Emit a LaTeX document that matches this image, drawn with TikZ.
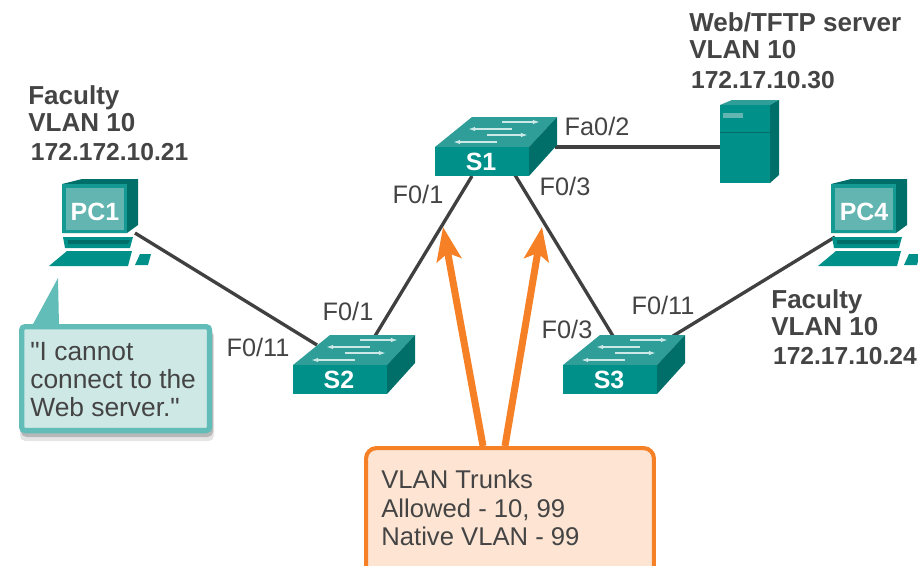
\documentclass[tikz,border=0pt]{standalone}
\usepackage{fontspec}
\setmainfont{Liberation Sans}
\newfontfamily\calloutfont{Liberation Sans}
\usetikzlibrary{arrows.meta}
\definecolor{teal1}{HTML}{00908A}
\definecolor{teal2}{HTML}{2F9E98}
\definecolor{teal3}{HTML}{006F69}
\definecolor{teal4}{HTML}{159A93}
\definecolor{screen1}{HTML}{62B5B0}
\definecolor{callout1}{HTML}{CDE8E5}
\definecolor{callout2}{HTML}{62BDB9}
\definecolor{orange1}{HTML}{F58025}
\definecolor{orange2}{HTML}{FDE4D3}
\definecolor{text1}{HTML}{444444}
\tikzset{
  link/.style={draw=black!75,line width=1.9pt},
  trunk/.style={draw=orange1,line width=4pt,-{Stealth[length=19pt,width=14pt,inset=4pt]}},
  port/.style={text=text1,font=\fontsize{14.4}{16}\selectfont,inner sep=0pt},
  info/.style={text=text1,font=\fontsize{14.8}{15.4}\selectfont\bfseries,align=left,anchor=north west,inner sep=0pt},
  iconlabel/.style={text=white,font=\fontsize{14.2}{15}\selectfont\bfseries,inner sep=0pt},
  pics/switchicon/.style={code={
    \fill[teal2] (0,0) -- (37,-30) -- (122,-30) -- (94,0) -- cycle;
    \fill[teal1] (0,0) rectangle (94,29);
    \fill[teal3] (94,0) -- (122,-30) -- (122,-2) -- (94,29) -- cycle;
    \foreach \a/\b/\y in {67/105/-25,52/93/-12}
      \draw[white!80!teal1,line width=.8pt,-{Latex[length=4pt,width=2.5pt]}] (\a,\y) -- (\b,\y);
    \foreach \a/\b/\y in {33/77/-18,18/62/-5}
      \draw[white!80!teal1,line width=.8pt,{Latex[length=4pt,width=2.5pt]}-] (\a,\y) -- (\b,\y);
    \node[iconlabel] (-label) at (46,15) {#1};
  }},
  pics/pcicon/.style={code={
    \fill[teal3] (0,0) -- (20,-5) -- (76,-5) -- (76,41) -- (65,49) -- (0,49) -- cycle;
    \fill[teal4] (0,0) -- (65,0) -- (65,49) -- (0,49) -- cycle;
    \fill[screen1] (4,4) rectangle (62,46);
    \fill[teal1] (1,53) -- (71,53) -- (68,64) -- (3,64) -- cycle;
    \fill[teal3] (6,56) -- (68,56) -- (66,60) -- (6,60) -- cycle;
    \fill[teal1] (5,67) -- (70,67) -- (66,82) -- (-13,82) -- cycle;
    \fill[teal1] (78,70) -- (89,70) -- (86,81) -- (73,81) -- cycle;
    \node[iconlabel] (-label) at (33,28) {#1};
  }}
}
\begin{document}
\begin{tikzpicture}[x=.02cm,y=-.02cm]
\useasboundingbox (0,0) rectangle (918,565);
\clip (0,0) rectangle (918,565);
% ports
\coordinate (PC1p) at (135,233);
\coordinate (PC4p) at (835,237);
\coordinate (S1a) at (472,176);
\coordinate (S1b) at (515,175);
\coordinate (S1c) at (555,147);
\coordinate (S2a) at (317,345);
\coordinate (S2b) at (375,336);
\coordinate (S3a) at (613,336);
\coordinate (S3b) at (673,336);
\coordinate (SRVp) at (722,147);
% links
\draw[link] (PC1p) -- (S2a);
\draw[link] (S2b) -- (S1a);
\draw[link] (S1b) -- (S3a);
\draw[link] (S3b) -- (PC4p);
\draw[link,line width=2.3pt] (S1c) -- (SRVp);
% switches
\pic (S1) at (435,147) {switchicon=S1};
\pic (S2) at (293,365) {switchicon=S2};
\pic (S3) at (563,365) {switchicon=S3};
% pcs
\pic (PC1) at (62,184) {pcicon=PC1};
\pic (PC4) at (831,184) {pcicon=PC4};
% server
\fill[teal2] (720,105) -- (732,100) -- (779,100) -- (770,105) -- cycle;
\fill[teal3] (770,105) -- (779,100) -- (779,175) -- (770,183) -- cycle;
\fill[teal1] (720,105) rectangle (770,183);
\fill[screen1] (723,113) rectangle (743,118);
\draw[teal3,line width=.5pt] (720,132) -- (770,132);
% callout
\fill[black!10,rounded corners=3pt] (20,330) rectangle (214,441);
\fill[black!28,rounded corners=3pt] (21,330) rectangle (213,437);
\fill[callout2] (32,326) -- (58,278) -- (59,326) -- cycle;
\node[draw=callout2,fill=callout1,line width=3pt,rounded corners=2pt,minimum width=3.76cm,minimum height=2.08cm,anchor=north west,inner sep=0pt] (CALL) at (19,324) {};
\node[text=text1,font=\calloutfont\fontsize{15}{16}\selectfont,align=left,anchor=north west,inner sep=0pt] (CALLtxt) at (30,342) {"I cannot\\connect to the\\Web server."};
% trunks box
\node[draw=orange1,fill=orange2,line width=2.3pt,rounded corners=6pt,minimum width=5.76cm,minimum height=3cm,anchor=north west,inner sep=0pt] (BOX) at (364,446) {};
\node[text=text1,font=\fontsize{14.6}{16}\selectfont,align=left,anchor=north west,inner sep=0pt] (BOXtxt) at (381,470) {VLAN Trunks\\Allowed - 10, 99\\Native VLAN - 99};
\coordinate (T1a) at (483,446);
\coordinate (T1b) at (443,227);
\coordinate (T2a) at (505,446);
\coordinate (T2b) at (542,227);
\draw[trunk] (T1a) -- (T1b);
\draw[trunk] (T2a) -- (T2b);
% port labels
\node[port] (L1) at (597,126) {Fa0/2};
\node[port] (L2) at (418,194) {F0/1};
\node[port] (L3) at (565,186) {F0/3};
\node[port] (L4) at (258,347) {F0/11};
\node[port] (L5) at (348,311) {F0/1};
\node[port] (L6) at (567,329) {F0/3};
\node[port] (L7) at (663,305) {F0/11};
% info
\node[info] (I1) at (28,85) {Faculty\\VLAN 10\\[1.2pt]\hspace*{1.5pt}\fontsize{14}{15}\selectfont 172.172.10.21};
\node[info] (I2) at (689,12) {Web/TFTP server\\VLAN 10\\[1.8pt]\hspace*{1pt}\fontsize{14}{15}\selectfont 172.17.10.30};
\node[info] (I3) at (771,289) {Faculty\\VLAN 10\\[1.2pt]\hspace*{1pt}\fontsize{14}{15}\selectfont 172.17.10.24};
\end{tikzpicture}
\end{document}
